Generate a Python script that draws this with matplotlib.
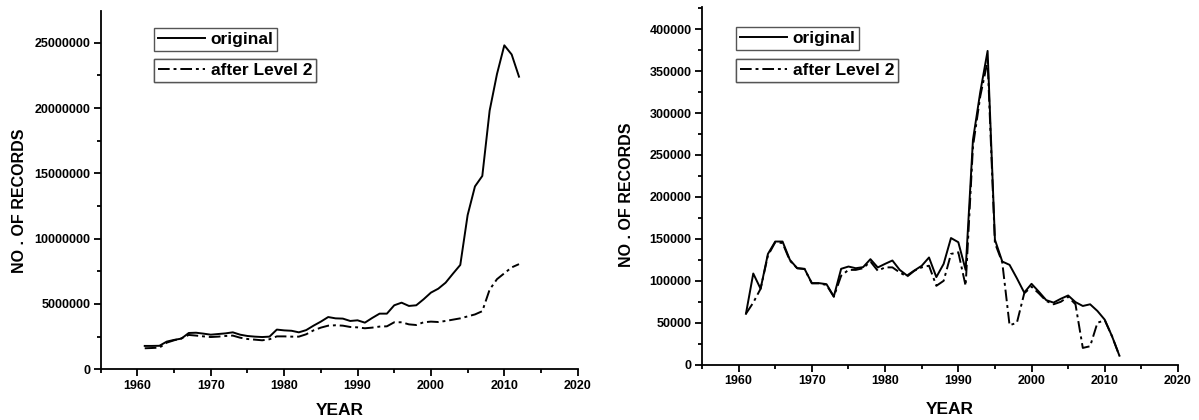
import matplotlib
matplotlib.use("Agg")
import matplotlib.pyplot as plt
from matplotlib.ticker import MultipleLocator, FuncFormatter
from matplotlib.lines import Line2D

plt.rcParams['font.family'] = ['Liberation Sans', 'DejaVu Sans']
plt.rcParams['font.weight'] = 'bold'

years = list(range(1961, 2013))

# left panel: total records
left_original = [1.79e6, 1.79e6, 1.80e6, 2.12e6, 2.25e6, 2.35e6, 2.78e6, 2.80e6, 2.73e6, 2.65e6,
                 2.70e6, 2.75e6, 2.83e6, 2.65e6, 2.55e6, 2.50e6, 2.47e6, 2.50e6, 3.04e6, 2.98e6,
                 2.95e6, 2.83e6, 3.00e6, 3.34e6, 3.65e6, 4.00e6, 3.90e6, 3.88e6, 3.70e6, 3.75e6,
                 3.57e6, 3.93e6, 4.26e6, 4.26e6, 4.90e6, 5.10e6, 4.85e6, 4.90e6, 5.36e6, 5.87e6,
                 6.17e6, 6.63e6, 7.32e6, 7.99e6, 11.8e6, 14.0e6, 14.8e6, 19.8e6, 22.6e6, 24.8e6,
                 24.1e6, 22.4e6]
left_level2 = [1.61e6, 1.63e6, 1.66e6, 2.04e6, 2.22e6, 2.37e6, 2.63e6, 2.58e6, 2.52e6, 2.47e6,
               2.50e6, 2.55e6, 2.58e6, 2.42e6, 2.32e6, 2.27e6, 2.22e6, 2.30e6, 2.52e6, 2.52e6,
               2.50e6, 2.50e6, 2.68e6, 2.98e6, 3.19e6, 3.34e6, 3.37e6, 3.34e6, 3.24e6, 3.21e6,
               3.14e6, 3.19e6, 3.27e6, 3.29e6, 3.60e6, 3.60e6, 3.44e6, 3.39e6, 3.60e6, 3.65e6,
               3.62e6, 3.70e6, 3.80e6, 3.90e6, 4.05e6, 4.20e6, 4.45e6, 6.10e6, 6.90e6, 7.35e6,
               7.80e6, 8.05e6]

# right panel
right_original = [60700, 108700, 90500, 132000, 146800, 146800, 125000, 115000, 114300, 97200,
                  97200, 96000, 81300, 114300, 117000, 115000, 116300, 125800, 115900, 120200,
                  124200, 113000, 106300, 112300, 117900, 127800, 104400, 120200, 151000, 146000,
                  113000, 268000, 325000, 374000, 149000, 123000, 119000, 103000, 86000, 96400,
                  87000, 77000, 74000, 78600, 82500, 74600, 70000, 72000, 64000, 53600,
                  33700, 10700]
right_level2 = [60700, 74000, 90500, 130000, 146000, 145000, 124000, 115000, 114000, 97000,
                97000, 95000, 81000, 106000, 113000, 113000, 115000, 123000, 112000, 116000,
                116000, 110000, 105000, 112000, 116000, 118000, 94000, 100000, 132000, 134000,
                94000, 260000, 320000, 362000, 145000, 122000, 47000, 50000, 85000, 93000,
                85000, 76000, 72000, 75000, 81000, 72000, 20000, 22000, 50000, 53000,
                33700, 10700]

panels = [
    (left_original, left_level2, 27.45e6, 5e6, 2.5e6),
    (right_original, right_level2, 426000, 50000, 25000),
]
positions = [
    [100.7 / 1199, 1 - 369.3 / 420, 477 / 1199, 358.6 / 420],
    [702 / 1199, 1 - 364.7 / 420, 476 / 1199, 357.4 / 420],
]
legend_x = [0.1117, 0.0714]
legend_y = [(0.9518, 0.8653), (0.9449, 0.8553)]
ylabel_pos = [(-0.154, 0.47), (-0.143, 0.475)]
xlabel_pos = [(0.502, -0.094), (0.521, -0.105)]

dashdot = (0, (6, 2, 1.5, 2))

fig = plt.figure(figsize=(11.99, 4.2), dpi=100)

for i, (orig, lev2, ytop, major, minor) in enumerate(panels):
    ax = fig.add_axes(positions[i])
    ax.plot(years, orig, color='black', lw=1.4, linestyle='-')
    ax.plot(years, lev2, color='black', lw=1.4, linestyle=dashdot)

    ax.set_xlim(1955, 2020)
    ax.set_ylim(0, ytop)
    ax.xaxis.set_major_locator(MultipleLocator(10))
    ax.xaxis.set_minor_locator(MultipleLocator(5))
    ax.yaxis.set_major_locator(MultipleLocator(major))
    ax.yaxis.set_minor_locator(MultipleLocator(minor))
    ax.yaxis.set_major_formatter(FuncFormatter(lambda v, p: '%d' % v))

    for side in ['top', 'right']:
        ax.spines[side].set_visible(False)
    for side in ['left', 'bottom']:
        ax.spines[side].set_linewidth(1.3)
    ax.tick_params(which='major', direction='out', length=5, width=1.3, labelsize=9, pad=2.5)
    ax.tick_params(which='minor', direction='out', length=3, width=1.3)
    for lbl in ax.get_xticklabels() + ax.get_yticklabels():
        lbl.set_fontweight('bold')

    ax.set_ylabel('NO . OF RECORDS', fontsize=11.5, fontweight='bold')
    ax.yaxis.set_label_coords(*ylabel_pos[i])
    ax.set_xlabel('YEAR', fontsize=12.5, fontweight='bold')
    ax.xaxis.set_label_coords(*xlabel_pos[i])

    # two separate legend boxes
    h1 = Line2D([], [], color='black', lw=1.4, linestyle='-')
    h2 = Line2D([], [], color='black', lw=1.4, linestyle=dashdot)
    for h, txt, yy in [(h1, 'original', legend_y[i][0]), (h2, 'after Level 2', legend_y[i][1])]:
        leg = ax.legend([h], [txt], loc='upper left', bbox_to_anchor=(legend_x[i], yy),
                        borderaxespad=0, frameon=True, fancybox=False, framealpha=1,
                        edgecolor='#555555', borderpad=0.22, handlelength=2.7,
                        handletextpad=0.35, prop={'size': 12.5, 'weight': 'bold'})
        leg.get_frame().set_linewidth(1.0)
        ax.add_artist(leg)

fig.savefig('out.png', dpi=100)
